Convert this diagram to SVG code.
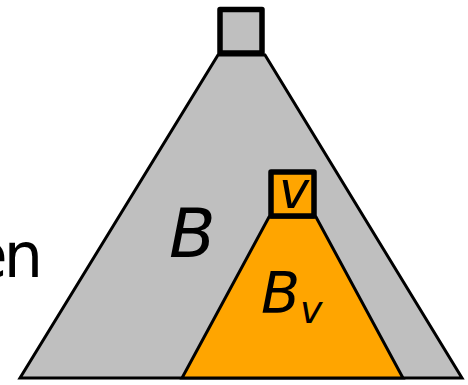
<svg xmlns="http://www.w3.org/2000/svg" width="468" height="385" viewBox="0 0 468 385">
<style>
.tri{stroke:#000;stroke-width:3;stroke-linejoin:miter}
.box{stroke:#000;stroke-width:5.5;stroke-linejoin:round}
.gray{fill:#bfbfbf}
.orange{fill:#ffa500}
text{font-family:"DejaVu Sans",sans-serif;fill:#000}
.it{font-style:italic}
</style>
<rect width="468" height="385" fill="#fff"/>
<text x="-30.5" y="277" font-size="62">e<tspan dx="-4">n</tspan></text>
<g id="B">
<polygon class="tri gray" points="218,55 265,55 462,378 20,378"/>
<rect class="box gray" x="220" y="9.5" width="42" height="43.5"/>
<text class="it" x="169" y="257" font-size="68">B</text>
</g>
<g id="Bv">
<polygon class="tri orange" points="269,217 316,217 403,378 182,378"/>
<rect class="box orange" x="271" y="172" width="43" height="44"/>
<text class="it" x="279" y="208" font-size="51">v</text>
<text class="it" x="261" y="313" font-size="57">B<tspan font-size="38" dy="10">v</tspan></text>
</g>
</svg>
